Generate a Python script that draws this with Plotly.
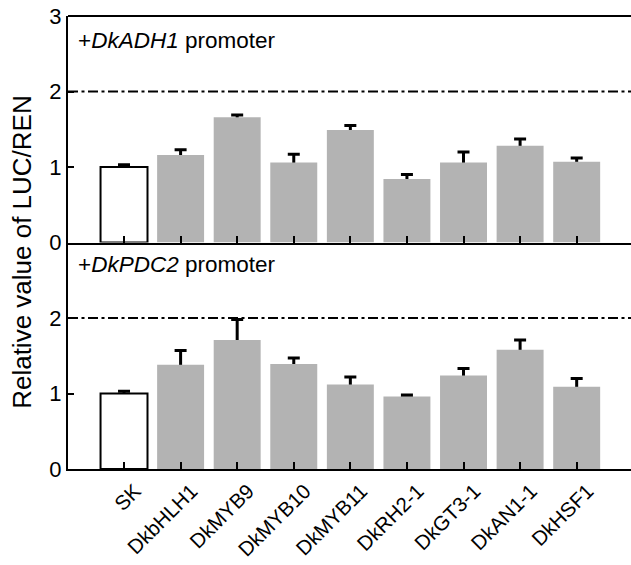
import plotly.graph_objects as go

categories = ["SK", "DkbHLH1", "DkMYB9", "DkMYB10", "DkMYB11", "DkRH2-1", "DkGT3-1", "DkAN1-1", "DkHSF1"]
adh1_values = [1.00, 1.16, 1.66, 1.06, 1.49, 0.84, 1.06, 1.28, 1.07]
adh1_errors = [0.03, 0.07, 0.03, 0.11, 0.06, 0.06, 0.14, 0.09, 0.05]
pdc2_values = [1.00, 1.38, 1.71, 1.39, 1.12, 0.96, 1.24, 1.58, 1.09]
pdc2_errors = [0.03, 0.19, 0.27, 0.08, 0.10, 0.02, 0.09, 0.13, 0.11]
y_ticks_top = [0, 1, 2, 3]
y_ticks_bottom = [0, 1, 2]
threshold = 2

FONT = "Liberation Sans, Arial, sans-serif"
GRAY = "#b3b3b3"
fill_colors = ["white"] + [GRAY] * (len(categories) - 1)
line_colors = ["black"] + [GRAY] * (len(categories) - 1)
line_widths = [2] + [0] * (len(categories) - 1)
idx = list(range(len(categories)))

fig = go.Figure()

for vals, errs, xa, ya in [(adh1_values, adh1_errors, "x", "y"), (pdc2_values, pdc2_errors, "x2", "y2")]:
    # error bars (drawn under the bars so only the upper half shows)
    fig.add_trace(go.Bar(
        x=idx, y=vals, xaxis=xa, yaxis=ya, width=0.83,
        marker=dict(color="rgba(0,0,0,0)", line=dict(width=0)),
        error_y=dict(type="data", array=errs, symmetric=True, color="black", thickness=3, width=6),
        showlegend=False, hoverinfo="skip",
    ))
    fig.add_trace(go.Bar(
        x=idx, y=vals, xaxis=xa, yaxis=ya, width=0.83,
        marker=dict(color=fill_colors, line=dict(color=line_colors, width=line_widths)),
        showlegend=False,
    ))

xrange = [-0.99, 8.96]
common_x = dict(range=xrange, showline=True, linecolor="black", linewidth=2,
                ticks="inside", ticklen=7, tickwidth=2, tickcolor="black",
                tickvals=idx, showgrid=False, zeroline=False, layer="above traces",
                automargin=False)
common_y = dict(range=[0, 3], showline=True, linecolor="black", linewidth=2,
                ticks="inside", ticklen=6, tickwidth=2, tickcolor="black",
                showgrid=False, zeroline=False, layer="above traces", automargin=False,
                tickfont=dict(family=FONT, size=22, color="black"))

fig.update_layout(
    width=631, height=565,
    margin=dict(l=68, r=0, t=16, b=96),
    paper_bgcolor="white", plot_bgcolor="white",
    barmode="overlay",
    font=dict(family=FONT, color="black"),
    xaxis=dict(common_x, anchor="y", domain=[0, 1], showticklabels=False),
    yaxis=dict(common_y, anchor="x", domain=[0.5, 1], tickvals=y_ticks_top),
    xaxis2=dict(common_x, anchor="y2", domain=[0, 1], ticktext=categories, tickangle=-45,
                ticklabelshift=11, ticklabelstandoff=0,
                tickfont=dict(family=FONT, size=20.5, color="black")),
    yaxis2=dict(common_y, anchor="x2", domain=[0, 0.5], tickvals=y_ticks_bottom),
)

# top border of upper panel
fig.add_shape(type="line", xref="x domain", yref="y domain", x0=0, x1=1, y0=1, y1=1,
              line=dict(color="black", width=2))

for ya in ["y", "y2"]:
    fig.add_shape(type="line", xref="x domain", yref=ya, x0=0, x1=1, y0=threshold, y1=threshold,
                  line=dict(color="black", width=2, dash="10px,3.5px,3px,3.5px"))

fig.add_annotation(xref="paper", yref="y", x=0.014, y=2.67, xanchor="left", yanchor="middle",
                   text="+<i>DkADH1</i> promoter", showarrow=False,
                   font=dict(family=FONT, size=22.5, color="black"))
fig.add_annotation(xref="paper", yref="y2", x=0.014, y=2.71, xanchor="left", yanchor="middle",
                   text="+<i>DkPDC2</i> promoter", showarrow=False,
                   font=dict(family=FONT, size=22.5, color="black"))

fig.add_annotation(xref="paper", yref="paper", x=-0.082, y=0.479, xanchor="center", yanchor="middle",
                   text="Relative value of LUC/REN", textangle=-90, showarrow=False,
                   font=dict(family=FONT, size=26, color="black"))

fig.write_html("out.html")
